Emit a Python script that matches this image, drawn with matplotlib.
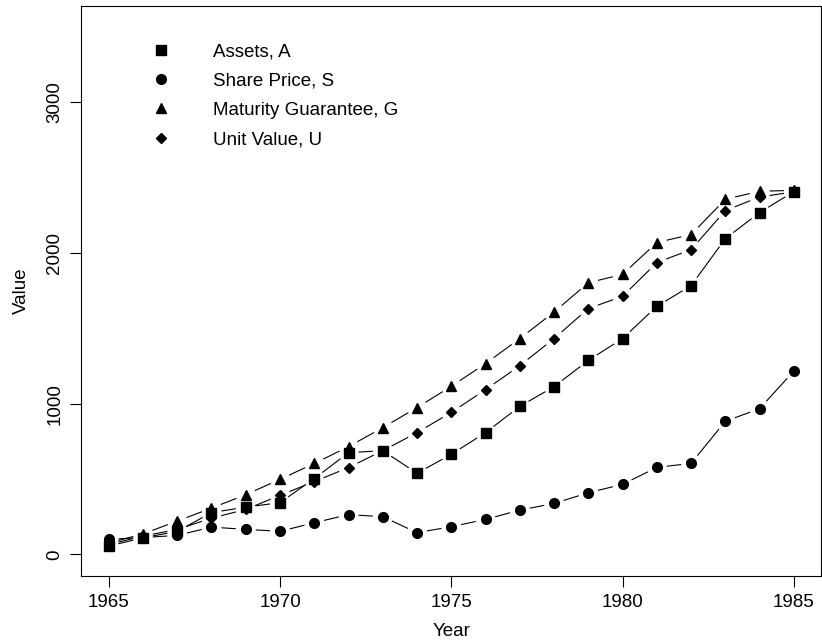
import numpy as np
import matplotlib
matplotlib.use("Agg")
import matplotlib.pyplot as plt
from matplotlib.lines import Line2D
from matplotlib.collections import LineCollection

plt.rcParams['font.family'] = ['Liberation Sans', 'DejaVu Sans']

years = list(range(1965, 1986))
assets = [55, 110, 153, 277, 314, 343, 503, 675, 688, 538, 664, 808, 982, 1113,
          1287, 1432, 1646, 1783, 2095, 2268, 2407]
share_price = [100, 112, 126, 181, 166, 153, 210, 264, 250, 144, 184, 232, 294, 338,
               409, 465, 577, 604, 883, 967, 1217]
guarantee = [75, 136, 221, 307, 396, 498, 603, 715, 841, 974, 1115, 1266, 1432, 1608,
             1802, 1858, 2069, 2122, 2356, 2409, 2415]
unit_value = [65, 122, 165, 241, 298, 392, 483, 576, 688, 808, 942, 1093, 1252, 1432,
              1631, 1712, 1936, 2022, 2281, 2371, 2405]

series = [
    ("Assets, A", assets, "s", 6.8),
    ("Share Price, S", share_price, "o", 7.0),
    ("Maturity Guarantee, G", guarantee, "^", 7.2),
    ("Unit Value, U", unit_value, "D", 5.0),
]

fig = plt.figure(figsize=(8.22, 6.42), dpi=100)
ax = fig.add_axes([81.3 / 822, (642 - 575.5) / 642, 740 / 822, 569.8 / 642])
ax.set_xlim(1964.2, 1985.8)
ax.set_ylim(-140, 3640)


def gapped(ax, x, y, gap=10):
    # R type="b": line segments stop short of the points
    pts = ax.transData.transform(np.column_stack([x, y]))
    inv = ax.transData.inverted()
    segs = []
    for p0, p1 in zip(pts[:-1], pts[1:]):
        d = p1 - p0
        length = np.hypot(*d)
        if length <= 2 * gap:
            continue
        u = d / length
        segs.append(inv.transform([p0 + u * gap, p1 - u * gap]))
    return segs


handles = []
for label, vals, mk, ms in series:
    ax.add_collection(LineCollection(gapped(ax, years, vals), colors="black", linewidths=0.8))
    ax.plot(years, vals, linestyle="none", marker=mk, color="black", markersize=ms)
    handles.append(Line2D([], [], linestyle="none", marker=mk, color="black",
                          markersize=ms, label=label))

ax.set_xticks([1965, 1970, 1975, 1980, 1985])
ax.set_yticks([0, 1000, 2000, 3000])
ax.set_yticklabels(["0", "1000", "2000", "3000"], rotation=90, va="center")
ax.tick_params(direction="out", length=8, width=0.8, labelsize=13.5, pad=5)
for s in ax.spines.values():
    s.set_linewidth(0.8)

ax.set_xlabel("Year", fontsize=13.5, labelpad=9)
ax.set_ylabel("Value", fontsize=13.5, labelpad=12)

ax.legend(handles=handles, loc="upper left",
          bbox_to_anchor=(152 / 822, 1 - 43 / 642), bbox_transform=fig.transFigure,
          frameon=False, fontsize=13.5, handlelength=1.0, handletextpad=2.25,
          labelspacing=0.65, borderpad=0, borderaxespad=0)

fig.savefig("out.png", dpi=100)
